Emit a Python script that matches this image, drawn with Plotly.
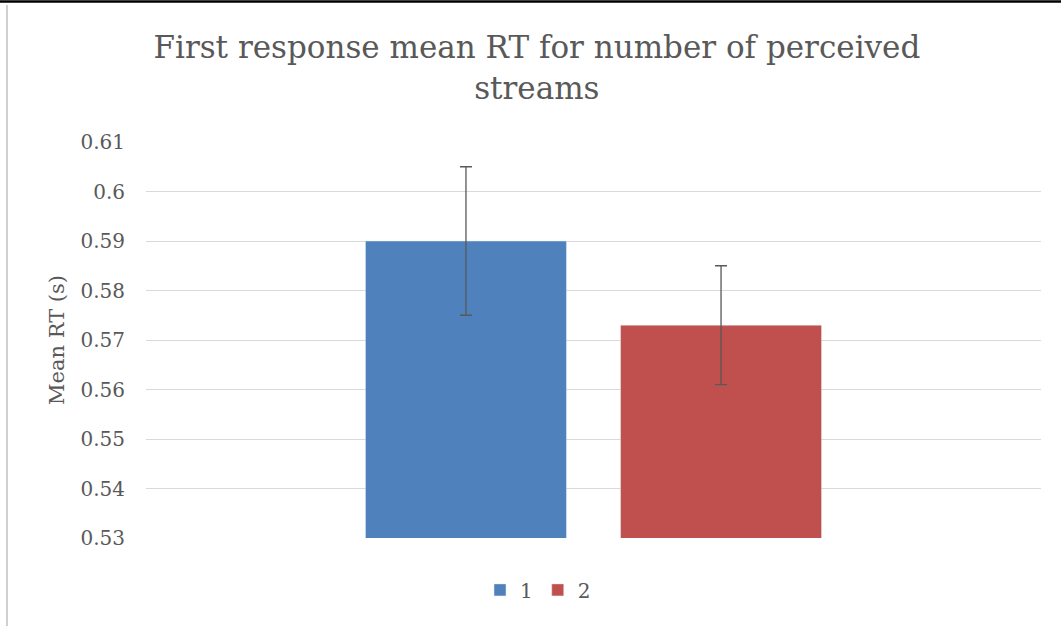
import plotly.graph_objects as go

categories = ["Streams"]
series_names = ["1", "2"]
mean_rt_1 = [0.590]
mean_rt_2 = [0.573]
err_1 = [0.015]
err_2 = [0.012]
y_ticks = [0.53, 0.54, 0.55, 0.56, 0.57, 0.58, 0.59, 0.60, 0.61]
y_ticklabels = ["0.53", "0.54", "0.55", "0.56", "0.57", "0.58", "0.59", "0.6", "0.61"]

FONT = "DejaVu Serif"
TXT = "#595959"

fig = go.Figure()
fig.add_trace(go.Bar(
    x=categories, y=mean_rt_1, name=series_names[0],
    marker=dict(color="#4F81BD"),
    error_y=dict(type="data", array=err_1, color="#595959", thickness=1.3, width=6),
))
fig.add_trace(go.Bar(
    x=categories, y=mean_rt_2, name=series_names[1],
    marker=dict(color="#C0504D"),
    error_y=dict(type="data", array=err_2, color="#595959", thickness=1.3, width=6),
))

fig.update_layout(
    width=1061, height=626,
    margin=dict(l=146, r=20, t=142, b=88),
    paper_bgcolor="white", plot_bgcolor="white",
    barmode="group", bargap=0.43, bargroupgap=0.212,
    font=dict(family=FONT, color=TXT),
    title=dict(
        text="First response mean RT for number of perceived<br>streams",
        x=0.506, xanchor="center", xref="container",
        y=0.907, yanchor="middle", yref="container",
        font=dict(family=FONT, size=31, color=TXT),
    ),
    showlegend=True,
    legend=dict(
        orientation="h", x=0.438, xanchor="center", y=-0.131, yanchor="middle",
        font=dict(family=FONT, size=20, color=TXT),
        itemwidth=30, tracegroupgap=0,
    ),
    xaxis=dict(showticklabels=False, showgrid=False, zeroline=False, showline=False),
    yaxis=dict(
        range=[0.53, 0.61], tickvals=y_ticks, ticktext=y_ticklabels,
        showgrid=True, gridcolor="#D9D9D9", gridwidth=1, zeroline=False,
        showline=False, ticks="", ticklabelstandoff=20,
        tickfont=dict(family=FONT, size=20, color=TXT),
        title=dict(text="Mean RT (s)", font=dict(family=FONT, size=21, color=TXT), standoff=10),
    ),
    shapes=[
        dict(type="line", xref="paper", yref="paper",
             x0=(0 - 146) / 895, x1=(1061 - 146) / 895, y0=(538 - 1.5) / 396, y1=(538 - 1.5) / 396,
             line=dict(color="black", width=2.5)),
        dict(type="line", xref="paper", yref="paper",
             x0=(7 - 146) / 895, x1=(7 - 146) / 895, y0=(538 - 5) / 396, y1=(538 - 626) / 396,
             line=dict(color="#D0D0D0", width=2)),
    ],
)

fig.write_html("out.html", config={"displayModeBar": False},
               post_script="document.body.style.margin='0';")
